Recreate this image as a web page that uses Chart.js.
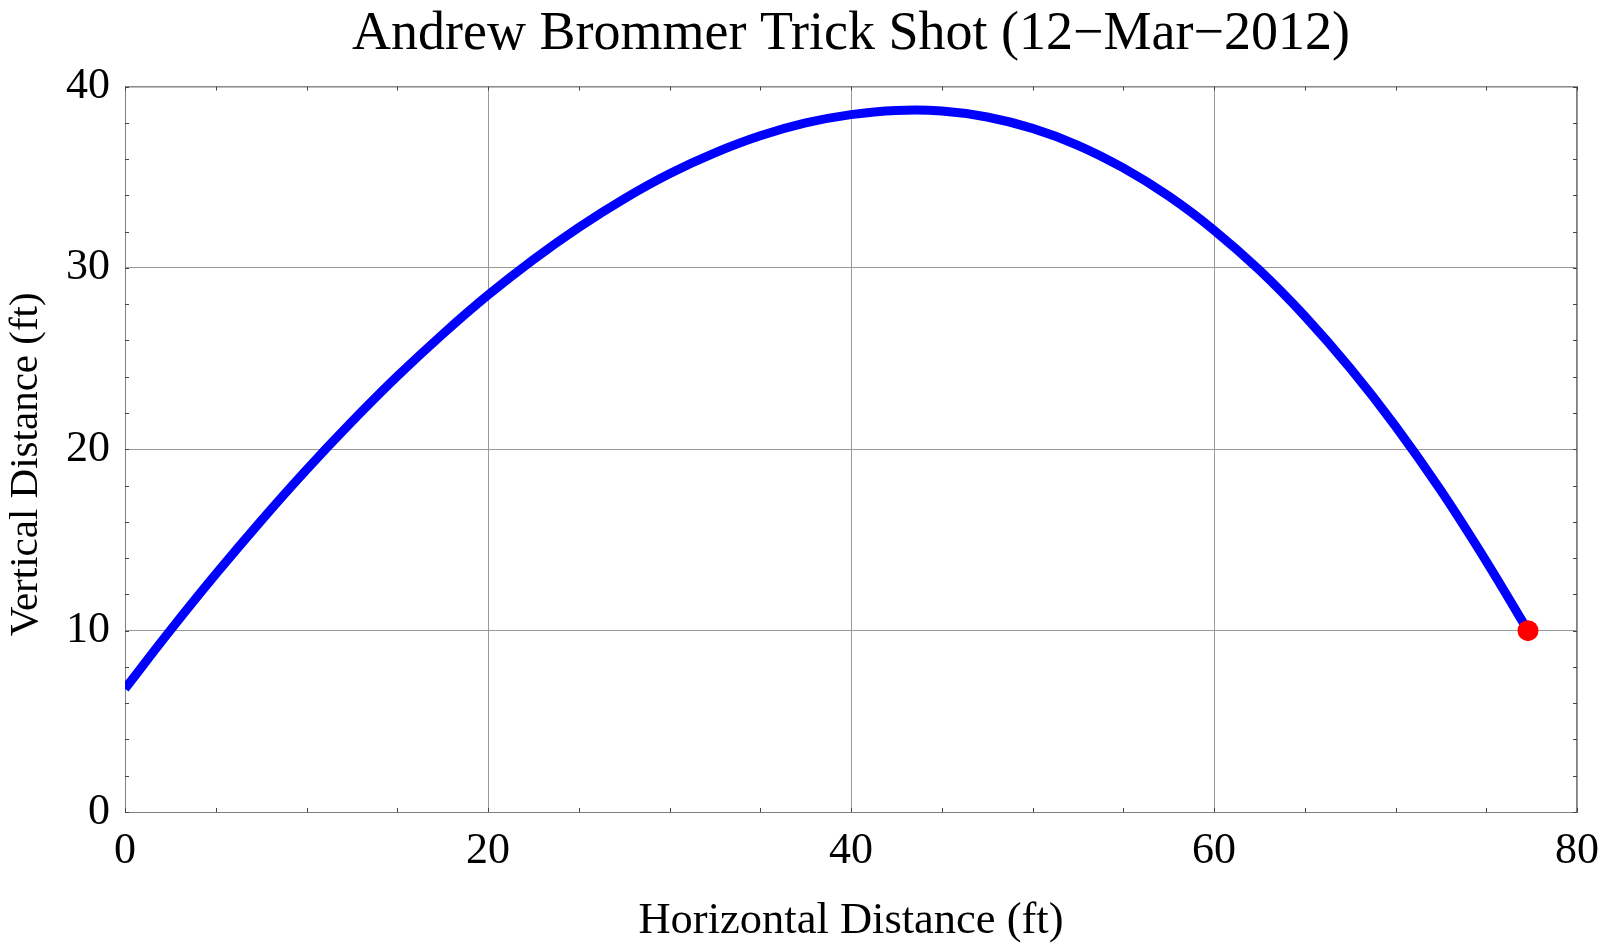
<!DOCTYPE html>
<html>
<head>
<meta charset="utf-8">
<title>Andrew Brommer Trick Shot</title>
<script src="https://cdn.jsdelivr.net/npm/chart.js@4.4.1/dist/chart.umd.min.js"></script>
<style>
    html, body { margin: 0; padding: 0; background: #ffffff; }
    #wrap { width: 1600px; height: 946px; }
</style>
</head>
<body>
<div id="wrap"><canvas id="myChart" width="1600" height="946"></canvas></div>
<script>
// trajectory (ft)
const pathX = [0, 2.5, 5, 7.5, 10, 12.5, 15, 17.5, 20, 22.5, 25, 27.5, 30, 32.5, 35, 37.5,
    40, 42.5, 45, 47.5, 50, 52.5, 55, 57.5, 60, 62.5, 65, 67.5, 70, 72.5, 75, 77.3];
const pathY = [6.80, 10.02, 13.11, 16.06, 18.87, 21.52, 24.02, 26.34, 28.50, 30.46, 32.23, 33.81, 35.19, 36.34, 37.28, 37.99,
    38.45, 38.68, 38.65, 38.32, 37.69, 36.76, 35.51, 33.96, 32.08, 29.88, 27.34, 24.47, 21.27, 17.72, 13.82, 10.0];

// where the ball goes in
const hoopX = [77.3];
const hoopY = [10];

const xTicks = [0, 20, 40, 60, 80];
const yTicks = [0, 10, 20, 30, 40];
const xMinorStep = 5;
const yMinorStep = 2;

const serif = "'Liberation Serif', 'Times New Roman', serif";

// frame on top/right plus little inward ticks on all four sides
const frameTicks = {
    id: "frameTicks",
    beforeDatasetsDraw(chart) {
        const ctx = chart.ctx;
        const a = chart.chartArea;
        const xs = chart.scales.x;
        const ys = chart.scales.y;
        const len = 4;
        ctx.save();
        ctx.strokeStyle = "#808080";
        ctx.lineWidth = 1;
        ctx.beginPath();
        ctx.moveTo(a.left, a.top + 0.5);
        ctx.lineTo(a.right, a.top + 0.5);
        ctx.moveTo(a.right - 0.5, a.top);
        ctx.lineTo(a.right - 0.5, a.bottom);
        ctx.stroke();

        ctx.strokeStyle = "#444444";
        ctx.beginPath();
        for (let v = xs.min; v <= xs.max; v += xMinorStep) {
            const px = Math.round(xs.getPixelForValue(v)) + 0.5;
            ctx.moveTo(px, a.bottom);
            ctx.lineTo(px, a.bottom - len);
            ctx.moveTo(px, a.top);
            ctx.lineTo(px, a.top + len);
        }
        for (let v = ys.min; v <= ys.max; v += yMinorStep) {
            const py = Math.round(ys.getPixelForValue(v)) + 0.5;
            ctx.moveTo(a.left, py);
            ctx.lineTo(a.left + len, py);
            ctx.moveTo(a.right, py);
            ctx.lineTo(a.right - len, py);
        }
        ctx.stroke();
        ctx.restore();
    }
};

// y axis title sits a bit below the middle of the plot in the original
const yAxisTitle = {
    id: "yAxisTitle",
    afterDraw(chart) {
        const ctx = chart.ctx;
        const a = chart.chartArea;
        ctx.save();
        ctx.translate(26, (a.top + a.bottom) / 2 + 15);
        ctx.rotate(-Math.PI / 2);
        ctx.font = "41px " + serif;
        ctx.fillStyle = "#000000";
        ctx.textAlign = "center";
        ctx.textBaseline = "middle";
        ctx.fillText("Vertical Distance (ft)", 0, 0);
        ctx.restore();
    }
};

new Chart(document.getElementById("myChart"), {
    type: "scatter",
    data: {
        datasets: [{
            label: "Hoop",
            data: hoopX.map((x, i) => ({ x: x, y: hoopY[i] })),
            backgroundColor: "#ff0000",
            borderColor: "#ff0000",
            pointRadius: 10.5,
            pointBorderWidth: 0,
            order: 0
        }, {
            label: "Trajectory",
            data: pathX.map((x, i) => ({ x: x, y: pathY[i] })),
            showLine: true,
            borderColor: "#0000ff",
            borderWidth: 9,
            pointRadius: 0,
            tension: 0.4,
            order: 1
        }]
    },
    options: {
        responsive: false,
        animation: false,
        events: [],
        layout: { padding: { top: 0, right: 23, bottom: 0, left: 0 } },
        plugins: {
            legend: { display: false },
            tooltip: { enabled: false },
            title: {
                display: true,
                fullSize: false, // centre over the plot, not the page
                text: "Andrew Brommer Trick Shot (12\u2212Mar\u22122012)",
                color: "#000000",
                font: { family: serif, size: 54, weight: "normal" },
                padding: { top: 2, bottom: 19.7 }
            }
        },
        scales: {
            x: {
                type: "linear",
                min: 0,
                max: 80,
                afterBuildTicks: (s) => { s.ticks = xTicks.map(v => ({ value: v })); },
                afterFit: (s) => { s.height = 134; s.paddingLeft = 0; s.paddingRight = 0; },
                grid: { color: "#999999", lineWidth: 1, drawTicks: false },
                border: { display: true, color: "#808080", width: 1 },
                ticks: {
                    color: "#000000",
                    padding: 13,
                    maxRotation: 0,
                    font: { family: serif, size: 44 }
                },
                title: {
                    display: true,
                    text: "Horizontal Distance (ft)",
                    color: "#000000",
                    font: { family: serif, size: 44.5 },
                    padding: { top: 0, bottom: -2 }
                }
            },
            y: {
                type: "linear",
                min: 0,
                max: 40,
                afterBuildTicks: (s) => { s.ticks = yTicks.map(v => ({ value: v })); },
                afterFit: (s) => { s.width = 125; s.paddingTop = 0; s.paddingBottom = 0; },
                grid: { color: "#999999", lineWidth: 1, drawTicks: false },
                border: { display: true, color: "#808080", width: 1 },
                ticks: {
                    color: "#000000",
                    padding: 15,
                    font: { family: serif, size: 44 }
                },
                title: { display: false }
            }
        }
    },
    plugins: [frameTicks, yAxisTitle]
});
</script>
</body>
</html>
